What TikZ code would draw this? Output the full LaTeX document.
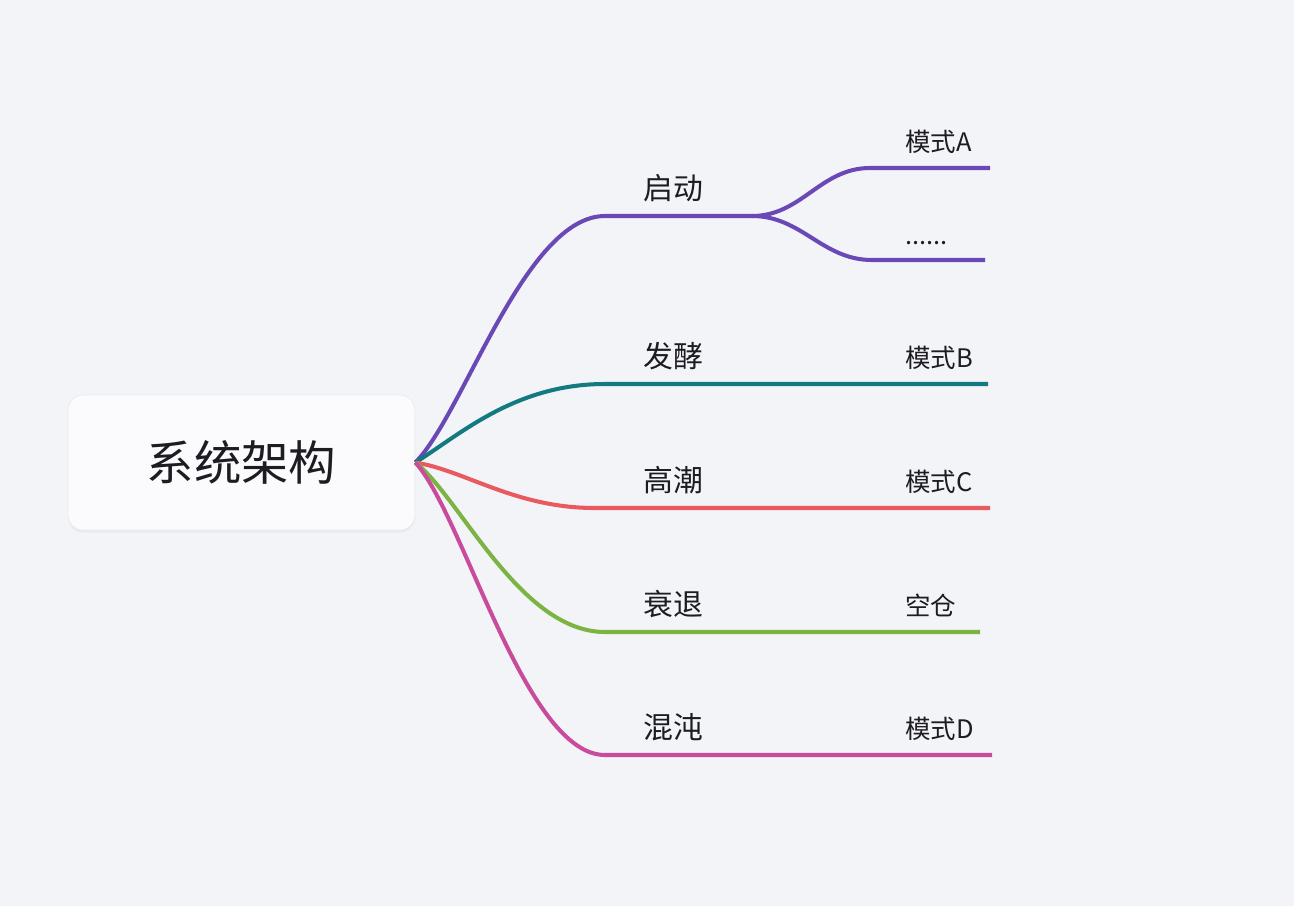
\documentclass[tikz,border=0pt]{standalone}
\usepackage{fontspec}
\setmainfont{Noto Sans CJK SC}
\usetikzlibrary{calc, shadows}
\definecolor{pageBg}{RGB}{243, 244, 248}
\definecolor{rootFill}{RGB}{251, 251, 253}
\definecolor{rootBorder}{RGB}{233, 234, 239}
\definecolor{textColor}{RGB}{28, 28, 34}
\definecolor{startColor}{RGB}{106, 72, 181}
\definecolor{fermentColor}{RGB}{19, 122, 128}
\definecolor{climaxColor}{RGB}{232, 90, 95}
\definecolor{declineColor}{RGB}{124, 179, 66}
\definecolor{chaosColor}{RGB}{201, 75, 155}

\begin{document}
\begin{tikzpicture}[x=0.02cm, y=-0.02cm]

% Style definitions
\tikzset{
    branch/.style={line width=2.3pt},
    rootbox/.style={
        rectangle, fill=rootFill, draw=rootBorder, line width=0.4pt, rounded corners=0.3cm,
        minimum width=6.94cm, minimum height=2.7cm, text=textColor,
        font=\fontsize{27}{30}\selectfont,
        drop shadow={opacity=0.07, shadow xshift=0pt, shadow yshift=-1.5pt}
    },
    phase/.style={anchor=base west, inner sep=0pt, text=textColor, font=\fontsize{17}{20}\selectfont},
    mode/.style={anchor=base west, inner sep=0pt, text=textColor, font=\fontsize{14.5}{17}\selectfont}
}

% Page
\fill [pageBg] (0,0) rectangle (1294,906);
\useasboundingbox (0,0) rectangle (1294,906);

% Root
\node (root) [rootbox] at (241.5,462.5) {系统架构};

% Branch points
\coordinate (start_mid) at (605,216);
\coordinate (start_fork) at (752,216);
\coordinate (modeA_bend) at (870,168);
\coordinate (modeA_end) at (990,168);
\coordinate (more_bend) at (872,260);
\coordinate (more_end) at (985,260);
\coordinate (ferment_mid) at (605,384);
\coordinate (ferment_end) at (988,384);
\coordinate (climax_mid) at (595,508);
\coordinate (climax_end) at (990,508);
\coordinate (decline_mid) at (605,632);
\coordinate (decline_end) at (980,632);
\coordinate (chaos_mid) at (605,755);
\coordinate (chaos_end) at (992,755);

% Connections
\draw [branch, draw=startColor] (root.east) .. controls ($(root.east)+(48,-48)$) and ($(start_mid)+(-80,0)$) .. (start_mid)
    -- (start_fork) to[out=0, in=180] (modeA_bend) -- (modeA_end);
\draw [branch, draw=startColor] (start_fork) to[out=0, in=180] (more_bend) -- (more_end);
\draw [branch, draw=fermentColor] (root.east) .. controls ($(root.east)+(45,-28)$) and ($(ferment_mid)+(-90,0)$) .. (ferment_mid) -- (ferment_end);
\draw [branch, draw=climaxColor] (root.east) .. controls ($(root.east)+(50,8)$) and ($(climax_mid)+(-80,0)$) .. (climax_mid) -- (climax_end);
\draw [branch, draw=declineColor] (root.east) .. controls ($(root.east)+(45,35)$) and ($(decline_mid)+(-85,0)$) .. (decline_mid) -- (decline_end);
\draw [branch, draw=chaosColor] (root.east) .. controls ($(root.east)+(48,52)$) and ($(chaos_mid)+(-80,0)$) .. (chaos_mid) -- (chaos_end);

% Phase labels
\node (start_lbl) [phase] at ($(start_mid)+(38,-17)$) {启动};
\node (ferment_lbl) [phase] at ($(ferment_mid)+(38,-17)$) {发酵};
\node (climax_lbl) [phase] at ($(climax_mid)+(48,-17)$) {高潮};
\node (decline_lbl) [phase] at ($(decline_mid)+(38,-17)$) {衰退};
\node (chaos_lbl) [phase] at ($(chaos_mid)+(38,-17)$) {混沌};

% Mode labels
\node (modeA_lbl) [mode] at ($(modeA_end)+(-85,-17)$) {模式A};
\node (more_lbl) [mode] at ($(more_end)+(-80,-16)$) {......};
\node (modeB_lbl) [mode] at ($(ferment_end)+(-83,-17)$) {模式B};
\node (modeC_lbl) [mode] at ($(climax_end)+(-85,-17)$) {模式C};
\node (empty_lbl) [mode] at ($(decline_end)+(-75,-17)$) {空仓};
\node (modeD_lbl) [mode] at ($(chaos_end)+(-87,-17)$) {模式D};

\end{tikzpicture}
\end{document}
